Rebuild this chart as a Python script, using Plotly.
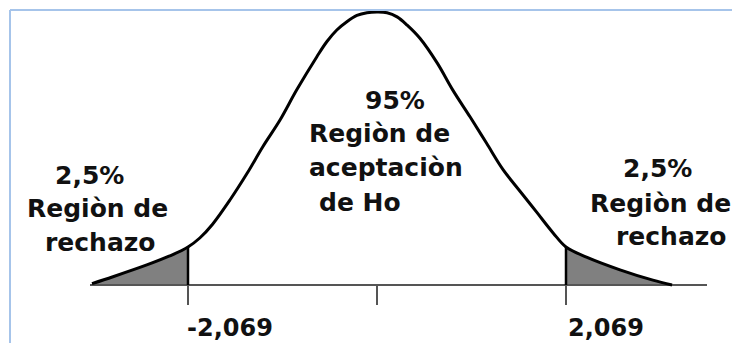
import plotly.graph_objects as go

# Bell curve of the test statistic (t value, density)
t_vals = [-3.12, -2.89, -2.52, -2.27, -2.069, -1.94, -1.80, -1.61, -1.42, -1.25,
          -1.06, -0.88, -0.66, -0.55, -0.44, -0.33, -0.22, -0.11, 0.0, 0.11,
          0.22, 0.33, 0.47, 0.66, 0.83, 1.02, 1.20, 1.38, 1.57, 1.75,
          1.93, 2.069, 2.30, 2.66, 3.02, 3.23]
dens = [0.002, 0.012, 0.029, 0.042, 0.055, 0.068, 0.088, 0.123, 0.162, 0.200,
        0.239, 0.282, 0.330, 0.352, 0.369, 0.381, 0.390, 0.394, 0.395, 0.394,
        0.388, 0.376, 0.357, 0.321, 0.282, 0.243, 0.205, 0.167, 0.135, 0.105,
        0.075, 0.055, 0.040, 0.022, 0.007, 0.0]

t_crit = 2.069
tick_vals = [-t_crit, 0.0, t_crit]
tick_labels = ["-2,069", "", "2,069"]

tail_text = ["2,5%", "Regiòn de", "rechazo"]
center_text = ["95%", "Regiòn de", "aceptaciòn", "de Ho"]

W, H = 732, 343
X0_PX, PX_PER_T = 377.0, 91.35      # pixel of t=0, pixels per unit of t
Y0_PX, PX_PER_D = 285.0, 691.1      # pixel of density 0, pixels per unit of density

x_range = [-X0_PX / PX_PER_T, (W - X0_PX) / PX_PER_T]
y_range = [-(H - Y0_PX) / PX_PER_D, Y0_PX / PX_PER_D]

INK = "#111111"
FONT = "DejaVu Sans"

fig = go.Figure()

# shaded rejection tails
left_t = [t for t in t_vals if t <= -t_crit]
left_d = [d for t, d in zip(t_vals, dens) if t <= -t_crit]
right_t = [t for t in t_vals if t >= t_crit]
right_d = [d for t, d in zip(t_vals, dens) if t >= t_crit]
for tt, dd in ((left_t, left_d), (right_t, right_d)):
    fig.add_trace(go.Scatter(
        x=tt + [tt[-1], tt[0]], y=dd + [0, 0],
        fill="toself", fillcolor="#808080", mode="lines",
        line=dict(width=0), hoverinfo="skip", showlegend=False))

# horizontal axis line and tick marks
tick_len = 20 / PX_PER_D
tx, ty = [], []
for v in tick_vals:
    tx += [v, v, None]
    ty += [0, -tick_len, None]
fig.add_trace(go.Scatter(x=[(90 - X0_PX) / PX_PER_T, (707 - X0_PX) / PX_PER_T], y=[0, 0],
                         mode="lines", line=dict(color="#555555", width=2),
                         hoverinfo="skip", showlegend=False))
fig.add_trace(go.Scatter(x=tx, y=ty, mode="lines", line=dict(color="#555555", width=2),
                         hoverinfo="skip", showlegend=False))

# density curve
fig.add_trace(go.Scatter(x=t_vals, y=dens, mode="lines",
                         line=dict(color="black", width=3, shape="spline", smoothing=1.0),
                         hoverinfo="skip", showlegend=False))

# critical value boundaries
fig.add_trace(go.Scatter(x=[-t_crit, -t_crit, None, t_crit, t_crit],
                         y=[0, dens[t_vals.index(-t_crit)], None, 0, dens[t_vals.index(t_crit)]],
                         mode="lines", line=dict(color="black", width=2.5),
                         hoverinfo="skip", showlegend=False))


def px_note(text, x_px, y_px, size=25):
    fig.add_annotation(text=text, xref="paper", yref="paper",
                       x=x_px / W, y=1 - y_px / H, xanchor="left", yanchor="middle",
                       showarrow=False, font=dict(family=FONT, size=size, color=INK))


# left tail labels
for line, (xp, yp) in zip(tail_text, [(53, 175), (25, 208), (43, 242)]):
    px_note("<b>%s</b>" % line, xp, yp)
# right tail labels
for line, (xp, yp) in zip(tail_text, [(621, 168), (588, 203), (614, 236)]):
    px_note("<b>%s</b>" % line, xp, yp)
# acceptance region labels
for line, (xp, yp) in zip(center_text, [(363, 100), (307, 133), (307, 167), (317, 202)]):
    px_note("<b>%s</b>" % line, xp, yp)

# critical value labels
for v, lab in zip(tick_vals, tick_labels):
    if lab:
        fig.add_annotation(text="<b>%s</b>" % lab, x=v, y=-(328 - Y0_PX) / PX_PER_D,
                           xref="x", yref="y", xanchor="left", yanchor="middle",
                           xshift=-3 if v < 0 else 0, showarrow=False,
                           font=dict(family=FONT, size=24, color=INK))

# light frame along the top and left
frame = "#a6c4ea"
fig.add_shape(type="line", xref="paper", yref="paper",
              x0=10 / W, x1=1.01, y0=1 - 10 / H, y1=1 - 10 / H, line=dict(color=frame, width=2))
fig.add_shape(type="line", xref="paper", yref="paper",
              x0=10 / W, x1=10 / W, y0=1 - 10 / H, y1=-0.01, line=dict(color=frame, width=2))

fig.update_layout(
    width=W, height=H, margin=dict(l=0, r=0, t=0, b=0),
    paper_bgcolor="white", plot_bgcolor="white",
    xaxis=dict(range=x_range, visible=False, fixedrange=True),
    yaxis=dict(range=y_range, visible=False, fixedrange=True),
    showlegend=False,
)

fig.write_html("out.html", config={"displayModeBar": False})
